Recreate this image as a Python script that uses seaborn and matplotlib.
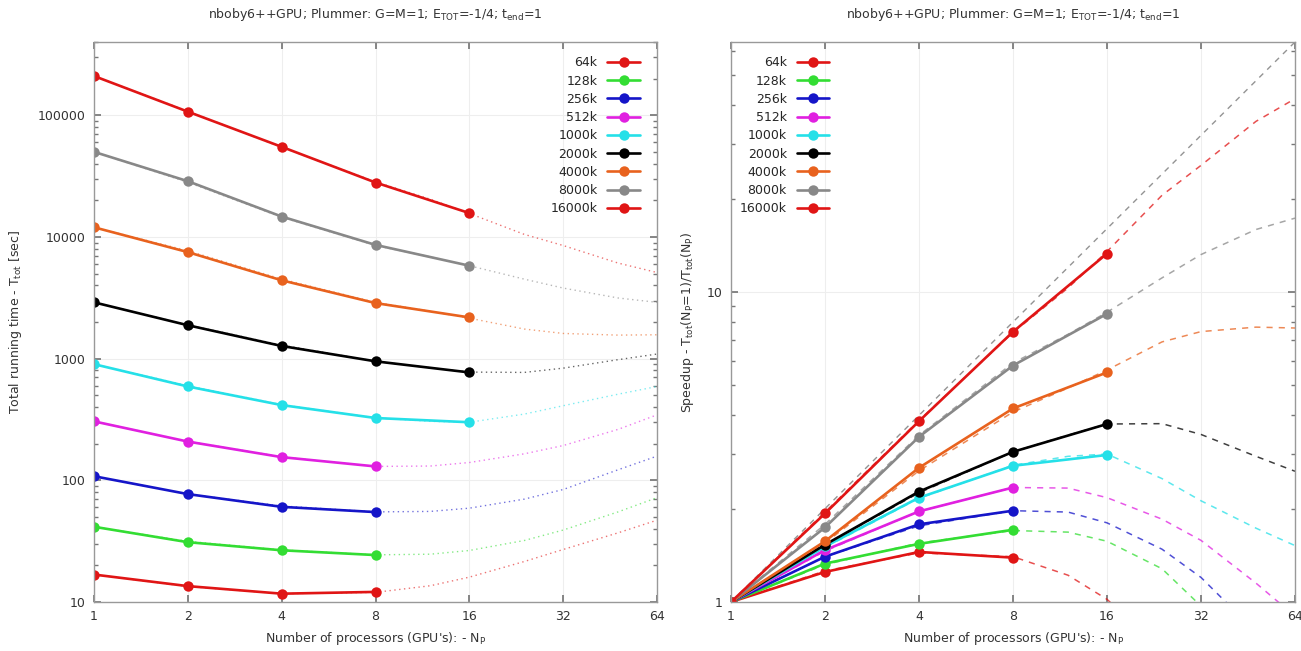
import numpy as np
import pandas as pd
import seaborn as sns
import matplotlib.pyplot as plt
from matplotlib.lines import Line2D
from matplotlib.ticker import FixedLocator, NullFormatter, LogLocator, FuncFormatter

sns.set_theme(style="ticks")
plt.rcParams['font.family'] = ['DejaVu Sans']

nan = np.nan

sizes = ['64k', '128k', '256k', '512k', '1000k', '2000k', '4000k', '8000k', '16000k']
colors = ['#e01515', '#33dd33', '#1515c8', '#e020e0', '#25e0e8',
          '#000000', '#e8621e', '#888888', '#e01515']

# measured points
n_procs = [1, 2, 4, 8, 16]
run_time = [
    [16.8, 13.5, 11.7, 12.1, nan],
    [41.5, 31.0, 26.6, 24.3, nan],
    [108, 77, 60.5, 54.8, nan],
    [305, 208, 155, 130, nan],
    [900, 590, 415, 325, 300],
    [2900, 1880, 1270, 950, 770],
    [12000, 7500, 4400, 2860, 2180],
    [50000, 28700, 14700, 8600, 5800],
    [210000, 107000, 55000, 28000, 15700],
]
speedup = [
    [1, 1.25, 1.45, 1.39, nan],
    [1, 1.33, 1.54, 1.71, nan],
    [1, 1.40, 1.78, 1.97, nan],
    [1, 1.47, 1.96, 2.34, nan],
    [1, 1.51, 2.17, 2.75, 2.98],
    [1, 1.53, 2.27, 3.05, 3.75],
    [1, 1.57, 2.71, 4.21, 5.5],
    [1, 1.74, 3.41, 5.79, 8.5],
    [1, 1.93, 3.83, 7.44, 13.3],
]

# fitted model curves (dotted / dashed)
n_fit = [1, 2, 4, 8, 12, 16, 24, 32, 48, 64]
time_fit = [
    [16.8, 13.4, 11.7, 12.0, 13.6, 16.0, 21.5, 27, 37, 47],
    [41.5, 31.5, 26.8, 24.4, 24.7, 26.5, 32, 39, 55, 72],
    [108, 77, 61.5, 55, 55.5, 59, 70, 84, 122, 158],
    [305, 209, 156, 130, 131, 140, 165, 193, 262, 345],
    [900, 600, 418, 326, 305, 300, 350, 410, 510, 590],
    [2900, 1890, 1290, 950, 840, 775, 770, 835, 980, 1090],
    [12000, 7700, 4500, 2900, 2450, 2150, 1750, 1610, 1560, 1570],
    [50000, 28100, 14500, 8500, 6850, 5800, 4500, 3800, 3150, 2900],
    [210000, 108000, 54500, 28400, 20400, 15600, 10500, 8500, 6100, 5100],
]
speedup_fit = [
    [1, 1.26, 1.44, 1.40, 1.22, 1.02, 0.70, 0.5, nan, nan],
    [1, 1.32, 1.55, 1.70, 1.68, 1.57, 1.28, 0.97, 0.6, nan],
    [1, 1.40, 1.76, 1.97, 1.95, 1.80, 1.48, 1.20, 0.80, 0.6],
    [1, 1.46, 1.96, 2.34, 2.33, 2.17, 1.85, 1.58, 1.15, 0.9],
    [1, 1.50, 2.16, 2.76, 2.95, 3.0, 2.5, 2.12, 1.73, 1.52],
    [1, 1.53, 2.25, 3.05, 3.45, 3.75, 3.76, 3.47, 2.95, 2.64],
    [1, 1.55, 2.65, 4.1, 4.9, 5.6, 6.9, 7.45, 7.7, 7.65],
    [1, 1.78, 3.45, 5.9, 7.3, 8.6, 11.1, 13.2, 15.9, 17.3],
    [1, 1.95, 3.85, 7.4, 10.3, 13.5, 20.5, 25.6, 35.5, 42],
]
ideal = [1, 2, 4, 8, 12, 16, 24, 32, 48, 64]


def long_form(xs, rows, name):
    recs = []
    for s, row in zip(sizes, rows):
        for x, v in zip(xs, row):
            if not np.isnan(v):
                recs.append((s, x, v))
    return pd.DataFrame(recs, columns=['N', 'np', name])


df_t = long_form(n_procs, run_time, 'time')
df_s = long_form(n_procs, speedup, 'speedup')
df_tf = long_form(n_fit, time_fit, 'time')
df_sf = long_form(n_fit, speedup_fit, 'speedup')

title = r'nboby6++GPU; Plummer: G=M=1; E$_{\rm TOT}$=-1/4; t$_{\rm end}$=1'
xlab = r"Number of processors (GPU's): - N$_{\rm P}$"
xticks = [1, 2, 4, 8, 16, 32, 64]

fig = plt.figure(figsize=(13.01, 6.51), dpi=100)
ax1 = fig.add_axes([0.0723, 0.0753, 0.4327, 0.8602])
ax2 = fig.add_axes([0.5619, 0.0753, 0.4335, 0.8602])

pal = dict(zip(sizes, colors))

# left: running time
sns.lineplot(data=df_tf, x='np', y='time', hue='N', palette=pal, ax=ax1,
             legend=False, linewidth=1.0, alpha=0.6, linestyle=(0, (1, 2.5)),
             estimator=None, sort=False)
sns.lineplot(data=df_t, x='np', y='time', hue='N', palette=pal, ax=ax1,
             legend=False, linewidth=1.9, marker='o', markersize=7.5,
             markeredgewidth=0, estimator=None, sort=False)

# right: speedup
ax2.plot(n_fit, ideal, color='#888888', linewidth=1.0, dashes=(4, 4), alpha=0.9)
sns.lineplot(data=df_sf, x='np', y='speedup', hue='N', palette=pal, ax=ax2,
             legend=False, linewidth=1.1, alpha=0.75, dashes=False,
             linestyle=(0, (4, 4)), estimator=None, sort=False)
sns.lineplot(data=df_s, x='np', y='speedup', hue='N', palette=pal, ax=ax2,
             legend=False, linewidth=1.9, marker='o', markersize=7.5,
             markeredgewidth=0, estimator=None, sort=False)

for ax in (ax1, ax2):
    ax.set_xscale('log', base=2)
    ax.set_yscale('log')
    ax.set_xlim(1, 64)
    ax.xaxis.set_major_locator(FixedLocator(xticks))
    ax.xaxis.set_major_formatter(FuncFormatter(lambda v, p: '%d' % v))
    ax.xaxis.set_minor_locator(FixedLocator([]))
    ax.yaxis.set_minor_locator(LogLocator(base=10, subs=np.arange(2, 10)))
    ax.yaxis.set_minor_formatter(NullFormatter())
    ax.yaxis.set_major_formatter(FuncFormatter(lambda v, p: '%d' % v))
    ax.tick_params(which='both', direction='in', top=True, right=True,
                   color='#777777', labelsize=9, labelcolor='#333333')
    ax.tick_params(which='major', length=5, pad=6)
    ax.tick_params(which='minor', length=3)
    ax.grid(True, which='major', color='#eeeeee', linewidth=0.8)
    for sp in ax.spines.values():
        sp.set_color('#999999')
        sp.set_linewidth(1.0)
    ax.set_title(title, fontsize=9, color='#333333', pad=17)
    ax.set_xlabel(xlab, fontsize=9, color='#333333', labelpad=5)

ax1.set_ylim(10, 4e5)
ax2.set_ylim(1, 64)
ax1.set_ylabel(r'Total running time - T$_{\rm tot}$ [sec]', fontsize=9,
               color='#333333', labelpad=10)
ax2.set_ylabel(r'Speedup - T$_{\rm tot}$(N$_{\rm P}$=1)/T$_{\rm tot}$(N$_{\rm P}$)',
               fontsize=9, color='#333333', labelpad=8)

handles = [Line2D([], [], color=c, linewidth=1.9, marker='o', markersize=7.5,
                  markeredgewidth=0) for c in colors]
leg_kw = dict(markerfirst=False, frameon=False, fontsize=9, labelspacing=0.42,
              handlelength=2.6, handletextpad=0.8, borderaxespad=0.3)
ax1.legend(handles, sizes, loc='upper right', bbox_to_anchor=(0.985, 0.99), **leg_kw)
ax2.legend(handles, sizes, loc='upper left', bbox_to_anchor=(0.0, 0.99), **leg_kw)

fig.savefig('out.png', dpi=100)
